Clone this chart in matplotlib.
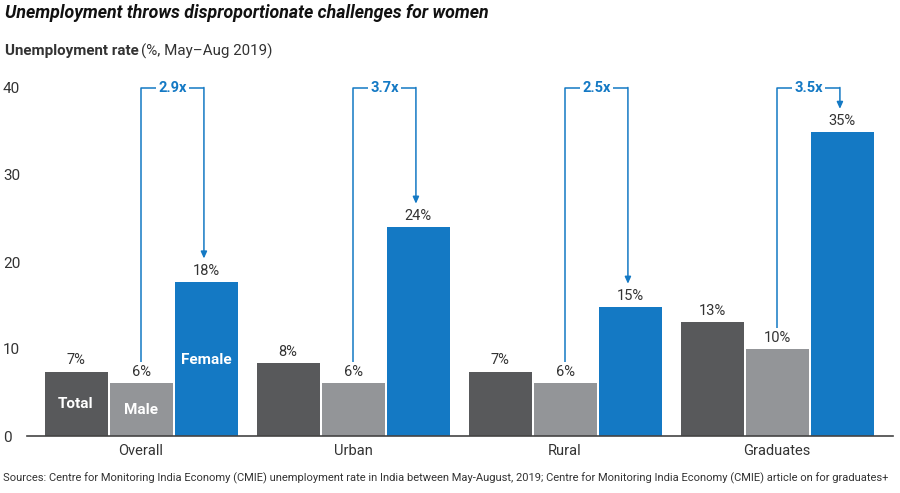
import matplotlib
matplotlib.use("Agg")
import matplotlib.pyplot as plt
import numpy as np

categories = ["Overall", "Urban", "Rural", "Graduates"]
total = [7.4, 8.4, 7.4, 13.1]
male = [6.1, 6.1, 6.1, 10.0]
female = [17.7, 24.0, 14.8, 34.9]
total_labels = ["7%", "8%", "7%", "13%"]
male_labels = ["6%", "6%", "6%", "10%"]
female_labels = ["18%", "24%", "15%", "35%"]
ratios = ["2.9x", "3.7x", "2.5x", "3.5x"]
yticks = [0, 10, 20, 30, 40]

C_TOTAL = "#58595b"
C_MALE = "#939598"
C_FEMALE = "#1479c4"
C_TEXT = "#333333"

plt.rcParams['font.family'] = ['Roboto', 'DejaVu Sans']

fig = plt.figure(figsize=(9, 4.93), dpi=100)
ax = fig.add_axes([27/900, (493-436)/493, (893-27)/900, (436-88)/493])

x = np.arange(len(categories))
step = 65/212
bw = 63/212
ax.bar(x - step, total, bw, color=C_TOTAL)
ax.bar(x, male, bw, color=C_MALE)
ax.bar(x + step, female, bw, color=C_FEMALE)

for i in range(len(categories)):
    ax.text(x[i] - step, total[i] + 0.5, total_labels[i], ha='center', va='bottom', fontsize=10.5, color=C_TEXT)
    ax.text(x[i], male[i] + 0.5, male_labels[i], ha='center', va='bottom', fontsize=10.5, color=C_TEXT)
    ax.text(x[i] + step, female[i] + 0.5, female_labels[i], ha='center', va='bottom', fontsize=10.5, color=C_TEXT)
    # bracket
    off = 2.7
    xl = x[i]
    xr = x[i] + step - 0.01
    ax.plot([xl, xl, xr], [male[i] + off - 0.3, 40, 40], color=C_FEMALE, lw=1.1, clip_on=False, solid_capstyle='butt')
    ax.annotate("", xy=(xr, female[i] + off), xytext=(xr, 40.06),
                arrowprops=dict(arrowstyle="-|>,head_length=0.4,head_width=0.18", color=C_FEMALE, lw=1.1,
                                shrinkA=0, shrinkB=0), annotation_clip=False)
    ax.text((xl + xr) / 2, 40, ratios[i], ha='center', va='center', fontsize=10.5, fontweight='bold',
            color=C_FEMALE, bbox=dict(facecolor='white', edgecolor='none', pad=1.5), clip_on=False)

# in-bar labels
ax.text(x[0] - step, 3.7, "Total", ha='center', va='center', fontsize=11, fontweight='bold', color='white')
ax.text(x[0], 3.0, "Male", ha='center', va='center', fontsize=11, fontweight='bold', color='white')
ax.text(x[0] + step, 8.7, "Female", ha='center', va='center', fontsize=11, fontweight='bold', color='white')

ax.set_xlim(-0.538, 3.547)
ax.set_ylim(0, 40)
ax.set_yticks(yticks)
ax.set_yticklabels([str(v) for v in yticks])
ax.set_xticks(x)
ax.set_xticklabels(categories)
for s in ['top', 'right', 'left']:
    ax.spines[s].set_visible(False)
ax.spines['bottom'].set_color('#444444')
ax.spines['bottom'].set_linewidth(1.2)
ax.tick_params(axis='x', length=0, pad=6, labelsize=10.5, labelcolor=C_TEXT)
ax.tick_params(axis='y', length=0, pad=0, labelsize=11, labelcolor=C_TEXT)
for lab in ax.get_yticklabels():
    lab.set_horizontalalignment('left')
    lab.set_x(-24/866)

fig.text(5/900, 1 - 13/493, "Unemployment throws disproportionate challenges for women",
         ha='left', va='center', fontsize=12.8, fontweight='bold', fontstyle='italic', color='#111111')
t1 = fig.text(5/900, 1 - 51/493, "Unemployment rate", ha='left', va='center', fontsize=10.9,
              fontweight='bold', color=C_TEXT)
fig.canvas.draw()
bb = t1.get_window_extent()
fig.text(bb.x1/900 + 2/900, 1 - 51/493, "(%, May\u2013Aug 2019)", ha='left', va='center', fontsize=10.9,
         color=C_TEXT)
src = fig.text(3/900, 1 - 478/493,
         "Sources: Centre for Monitoring India Economy (CMIE) unemployment rate in India between May-August, 2019; Centre for Monitoring India Economy (CMIE) article on for graduates+",
         ha='left', va='center', fontsize=8, color=C_TEXT)
fig.canvas.draw()
w = src.get_window_extent().width
src.set_fontsize(8 * 888 / w)

fig.savefig("out.png", dpi=100)
